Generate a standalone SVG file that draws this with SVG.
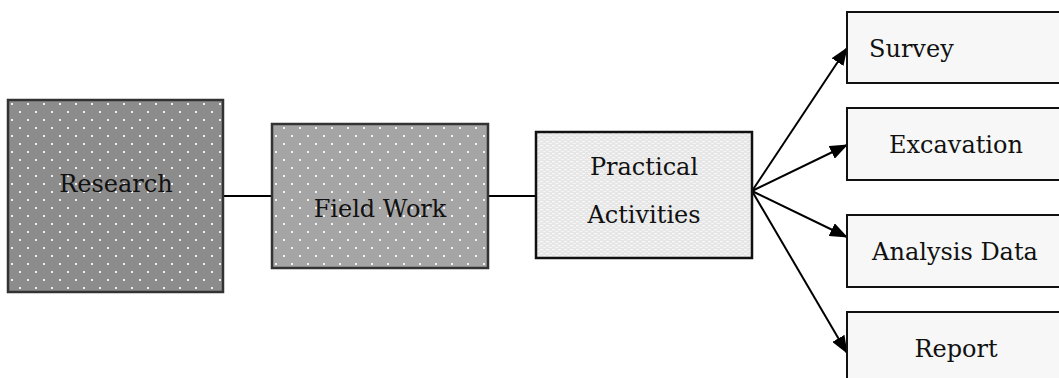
<svg xmlns="http://www.w3.org/2000/svg" width="1059" height="378" viewBox="0 0 1059 378">
<style>
.lbl{font-family:"DejaVu Serif","Liberation Serif",serif;font-size:24px;fill:#111;text-anchor:middle}
.lbl2{font-family:"DejaVu Serif","Liberation Serif",serif;font-size:24px;fill:#111}
.box{fill:#f7f7f7;stroke:#111;stroke-width:2}
.conn{stroke:#000;stroke-width:2;fill:none}
</style>
<defs>
<pattern id="dotsA" width="16" height="16" patternUnits="userSpaceOnUse" x="8" y="100">
<rect width="16" height="16" fill="#8c8c8c"/>
<rect x="3" y="3" width="2" height="2" fill="#f0f0f0"/>
<rect x="11" y="11" width="2" height="2" fill="#f0f0f0"/>
</pattern>
<pattern id="dotsB" width="16" height="16" patternUnits="userSpaceOnUse" x="272" y="124">
<rect width="16" height="16" fill="#a5a5a5"/>
<rect x="11" y="3" width="2" height="2" fill="#f2f2f2"/>
<rect x="3" y="11" width="2" height="2" fill="#f2f2f2"/>
</pattern>
<pattern id="fine" width="6" height="4" patternUnits="userSpaceOnUse">
<rect width="6" height="4" fill="#e6e6e6"/>
<rect x="0" y="1" width="3" height="1.2" fill="#f8f8f8"/>
<rect x="3" y="3" width="3" height="1" fill="#f4f4f4"/>
</pattern>
<marker id="ah" markerWidth="18" markerHeight="14" refX="17" refY="7" orient="auto" markerUnits="userSpaceOnUse">
<path d="M0,0 L18,7 L0,14 Z" fill="#000"/>
</marker>
</defs>
<g id="connectors">
<line class="conn" x1="223" y1="196" x2="272" y2="196"/>
<line class="conn" x1="488" y1="196" x2="536" y2="196"/>
<line class="conn" x1="752" y1="191" x2="847" y2="48" marker-end="url(#ah)"/>
<line class="conn" x1="752" y1="191" x2="847" y2="145" marker-end="url(#ah)"/>
<line class="conn" x1="752" y1="191" x2="847" y2="237" marker-end="url(#ah)"/>
<line class="conn" x1="752" y1="191" x2="847" y2="353" marker-end="url(#ah)"/>
</g>
<g id="research">
<rect x="8" y="100" width="215" height="192" fill="url(#dotsA)" stroke="#333" stroke-width="2.5"/>
<text class="lbl" x="116" y="192">Research</text>
</g>
<g id="fieldwork">
<rect x="272" y="124" width="216" height="144" fill="url(#dotsB)" stroke="#333" stroke-width="2.5"/>
<text class="lbl" x="380" y="217">Field Work</text>
</g>
<g id="practical">
<rect x="536" y="132" width="216" height="126" fill="url(#fine)" stroke="#111" stroke-width="2.5"/>
<text class="lbl" x="644" y="175">Practical</text>
<text class="lbl" x="644" y="223">Activities</text>
</g>
<g id="survey">
<rect class="box" x="847" y="12" width="220" height="71"/>
<text class="lbl2" x="869" y="57">Survey</text>
</g>
<g id="excavation">
<rect class="box" x="847" y="108" width="220" height="72"/>
<text class="lbl" x="956" y="153">Excavation</text>
</g>
<g id="analysis">
<rect class="box" x="847" y="215" width="220" height="72"/>
<text class="lbl" x="955" y="260">Analysis Data</text>
</g>
<g id="report">
<rect class="box" x="847" y="312" width="220" height="80"/>
<text class="lbl" x="956" y="357">Report</text>
</g>
</svg>
